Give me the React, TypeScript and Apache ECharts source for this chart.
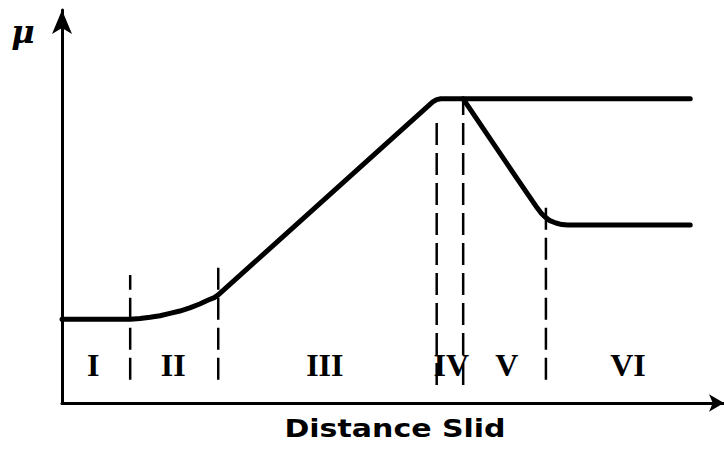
import React, { useEffect, useRef } from "react";
import * as echarts from "echarts";

// Schematic friction (μ) vs distance slid, arbitrary units (x: 0–100, y: 0–100)
const stageLabels = ["I", "II", "III", "IV", "V", "VI"];
const stageLabelX = [4.7, 16.8, 39.7, 58.8, 67.2, 85.5];
const stageLabelY = 9.7;

const mainCurve: number[][] = [
  [0, 21.3],
  [10.3, 21.3],
  [11.8, 21.5],
  [13.3, 21.8],
  [14.8, 22.2],
  [16.3, 22.8],
  [17.8, 23.4],
  [19.3, 24.2],
  [20.8, 25.2],
  [22.1, 26.2],
  [23.0, 26.8],
  [23.6, 27.5],
  [56.0, 76.6],
  [56.6, 77.2],
  [57.2, 77.4],
  [94.9, 77.4],
];

const dropCurve: number[][] = [
  [60.6, 77.4],
  [68.9, 56.7],
  [71.8, 49.6],
  [72.4, 48.3],
  [73.0, 47.3],
  [73.7, 46.4],
  [74.6, 45.8],
  [75.5, 45.4],
  [76.4, 45.3],
  [94.9, 45.3],
];

const boundaryX = [10.3, 23.6, 56.6, 60.6, 73.1];
const boundaryBottom = [5.9, 5.9, 4.6, 4.6, 5.9];
const boundaryTop = [32.6, 35.6, 73.3, 77.4, 51.7];

const xAxisTitle = "Distance Slid";
const yAxisTitle = "μ";

export default function App() {
  const ref = useRef<HTMLDivElement>(null);

  useEffect(() => {
    if (!ref.current) return;
    const chart = echarts.init(ref.current, undefined, { renderer: "svg" });

    const boundarySeries = boundaryX.map((x, i) => ({
      type: "line",
      data: [
        [x, boundaryBottom[i]],
        [x, boundaryTop[i]],
      ],
      symbol: "none",
      silent: true,
      lineStyle: { color: "#000", width: 2.5, type: [22, 8] },
      z: 2,
    }));

    const axisCommon = {
      type: "value",
      min: 0,
      max: 100,
      axisTick: { show: false },
      axisLabel: { show: false },
      splitLine: { show: false },
    };

    chart.setOption({
      animation: false,
      backgroundColor: "#fff",
      grid: {
        left: 62,
        right: 0,
        top: 10,
        bottom: 48,
        containLabel: false,
        outerBoundsMode: "none",
      },
      xAxis: {
        ...axisCommon,
        axisLine: {
          show: true,
          onZero: false,
          symbol: ["none", "arrow"],
          symbolSize: [13, 15],
          lineStyle: { color: "#000", width: 3 },
        },
      },
      yAxis: {
        ...axisCommon,
        axisLine: {
          show: true,
          onZero: false,
          symbol: ["none", "arrow"],
          symbolSize: [15, 24],
          lineStyle: { color: "#000", width: 3 },
        },
      },
      graphic: [
        {
          type: "text",
          x: 23,
          y: 32,
          style: {
            text: yAxisTitle,
            font: "italic bold 32px 'DejaVu Serif'",
            fill: "#000",
            align: "center",
            verticalAlign: "middle",
          },
        },
        {
          type: "text",
          x: 395,
          y: 429,
          scaleX: 1.25,
          style: {
            text: xAxisTitle,
            font: "bold 24px 'DejaVu Sans'",
            fill: "#000",
            align: "center",
            verticalAlign: "middle",
          },
        },
      ],
      series: [
        {
          type: "line",
          data: mainCurve,
          symbol: "none",
          smooth: false,
          lineStyle: { color: "#000", width: 5, join: "round", cap: "round" },
          z: 3,
        },
        {
          type: "line",
          data: dropCurve,
          symbol: "none",
          smooth: false,
          lineStyle: { color: "#000", width: 5, join: "round", cap: "round" },
          z: 3,
        },
        ...boundarySeries,
        {
          type: "scatter",
          data: stageLabelX.map((x, i) => ({
            value: [x, stageLabelY],
            name: stageLabels[i],
          })),
          symbolSize: 1,
          itemStyle: { color: "rgba(0,0,0,0)", opacity: 1 },
          label: {
            show: true,
            position: "inside",
            formatter: "{b}",
            color: "#000",
            opacity: 1,
            textBorderWidth: 0,
            textBorderColor: "transparent",
            fontFamily: "'Liberation Serif'",
            fontWeight: "bold",
            fontSize: 32,
          },
          silent: true,
          z: 4,
        },
      ],
    });

    return () => chart.dispose();
  }, []);

  return (
    <div
      ref={ref}
      style={{ position: "fixed", left: 0, top: 0, width: 724, height: 451 }}
    />
  );
}
